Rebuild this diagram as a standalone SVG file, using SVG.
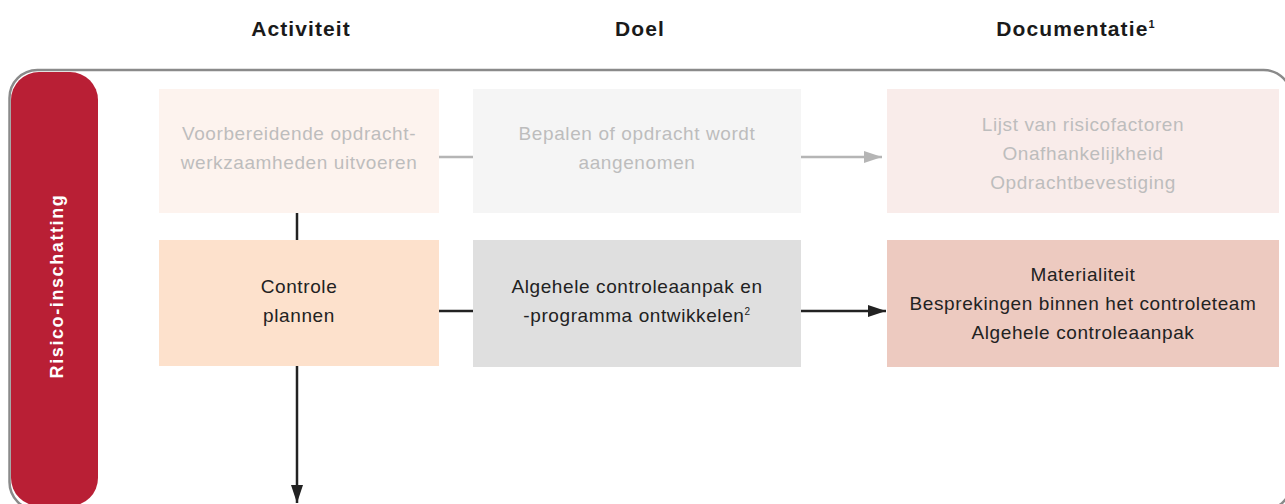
<svg xmlns="http://www.w3.org/2000/svg" width="1285" height="504" viewBox="0 0 1285 504">
<style>
.hdr{font-family:"Liberation Sans",Arial,sans-serif;font-weight:bold;font-size:21px;fill:#1a1a1a;text-anchor:middle;letter-spacing:1.1px}
.t{font-family:"Liberation Sans",Arial,sans-serif;font-size:19px;text-anchor:middle;letter-spacing:0.6px}
.dim{fill:#bdbdbd}
.dark{fill:#222222}
.sup{font-size:10px}
.lg{stroke:#b5b5b5;stroke-width:2.5;fill:none}
.lb{stroke:#222222;stroke-width:2.5;fill:none}
</style>
<defs>
<marker id="ag" viewBox="0 0 18 12" refX="18" refY="6" markerWidth="18" markerHeight="12" markerUnits="userSpaceOnUse" orient="auto"><path d="M0,0 L18,6 L0,12 z" fill="#b5b5b5"/></marker>
<marker id="ab" viewBox="0 0 18 12" refX="18" refY="6" markerWidth="18" markerHeight="12" markerUnits="userSpaceOnUse" orient="auto"><path d="M0,0 L18,6 L0,12 z" fill="#222222"/></marker>
</defs>
<rect width="1285" height="504" fill="#ffffff"/>

<g id="headers">
<text class="hdr" x="301" y="36">Activiteit</text>
<text class="hdr" x="640" y="36">Doel</text>
<text class="hdr" x="1076" y="36">Documentatie<tspan font-size="11" dy="-8">1</tspan></text>
</g>

<g id="frame">
<rect x="9.5" y="70" width="1282" height="440" rx="28" fill="none" stroke="#8a8a8a" stroke-width="2.5"/>
<rect x="11" y="72" width="87" height="434" rx="28" fill="#b91f35"/>
<text transform="translate(63,286) rotate(-90)" font-family="'Liberation Sans',Arial,sans-serif" font-weight="bold" font-size="18" fill="#ffffff" text-anchor="middle" letter-spacing="1.6">Risico-inschatting</text>
</g>

<g id="connectors">
<line class="lg" x1="439" y1="157" x2="473" y2="157"/>
<line class="lg" x1="801" y1="157" x2="882" y2="157" marker-end="url(#ag)"/>
<line class="lb" x1="297" y1="213" x2="297" y2="240"/>
<line class="lb" x1="439" y1="311" x2="473" y2="311"/>
<line class="lb" x1="801" y1="311" x2="886" y2="311" marker-end="url(#ab)"/>
<line class="lb" x1="297" y1="366" x2="297" y2="503" marker-end="url(#ab)"/>
</g>

<g id="node-voorbereidende">
<rect x="159" y="89" width="280" height="124" fill="#fdf3ee"/>
<text class="t dim" x="299" y="140">Voorbereidende opdracht-</text>
<text class="t dim" x="299" y="169">werkzaamheden uitvoeren</text>
</g>
<g id="node-bepalen">
<rect x="473" y="89" width="328" height="124" fill="#f5f5f5"/>
<text class="t dim" x="637" y="140">Bepalen of opdracht wordt</text>
<text class="t dim" x="637" y="169">aangenomen</text>
</g>
<g id="node-lijst">
<rect x="887" y="89" width="392" height="124" fill="#f9ecea"/>
<text class="t dim" x="1083" y="131">Lijst van risicofactoren</text>
<text class="t dim" x="1083" y="160">Onafhankelijkheid</text>
<text class="t dim" x="1083" y="189">Opdrachtbevestiging</text>
</g>

<g id="node-controle">
<rect x="159" y="240" width="280" height="126" fill="#fde1cc"/>
<text class="t dark" x="299" y="293">Controle</text>
<text class="t dark" x="299" y="322">plannen</text>
</g>
<g id="node-algehele">
<rect x="473" y="240" width="328" height="127" fill="#dfdfdf"/>
<text class="t dark" x="637" y="293">Algehele controleaanpak en</text>
<text class="t dark" x="637" y="322">-programma ontwikkelen<tspan class="sup" dy="-7">2</tspan></text>
</g>
<g id="node-materialiteit">
<rect x="887" y="240" width="392" height="127" fill="#edcac0"/>
<text class="t dark" x="1083" y="281">Materialiteit</text>
<text class="t dark" x="1083" y="310">Besprekingen binnen het controleteam</text>
<text class="t dark" x="1083" y="339">Algehele controleaanpak</text>
</g>
</svg>
